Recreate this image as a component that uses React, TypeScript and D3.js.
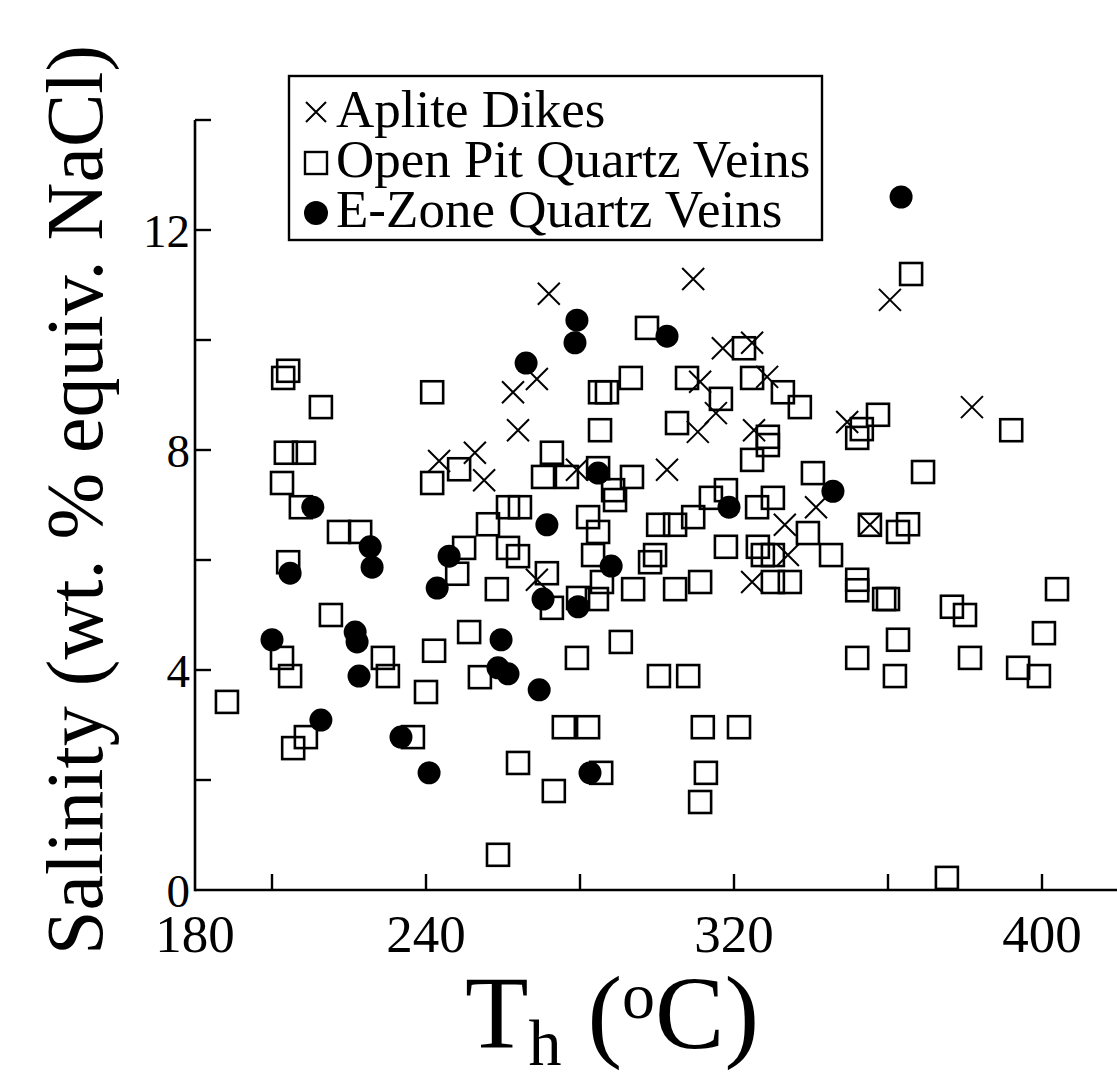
import React from 'react';
import * as d3 from 'd3';

// Aplite Dikes: [Th (°C), salinity wt.% NaCl eq.]
const apliteDikes: [number, number][] = [
  [243.4, 7.8], [252.7, 7.95], [255.1, 7.45], [271.9, 10.84], [309.4, 11.11],
  [262.6, 9.05], [268.8, 9.29], [263.9, 8.36], [268.8, 5.64], [279.2, 7.64],
  [302.6, 7.64], [317.1, 9.85], [324.7, 9.95], [311.2, 9.24], [315.3, 8.67],
  [310.6, 8.33], [328.6, 9.33], [325.2, 8.36], [333.2, 6.64], [334.0, 6.09],
  [324.7, 5.6], [341.3, 6.96], [349.4, 8.51], [355.3, 6.64], [360.5, 10.73],
  [381.8, 8.78],
];

// Open Pit Quartz Veins
const openPitVeins: [number, number][] = [
  [188.3, 3.42], [202.9, 9.31], [204.2, 9.44], [212.7, 8.78], [203.6, 7.95],
  [208.3, 7.95], [241.6, 9.05], [202.6, 7.4], [241.6, 7.4], [248.6, 7.65],
  [297.4, 10.22], [322.6, 9.85], [285.2, 9.05], [287.0, 9.05], [293.2, 9.31],
  [307.8, 9.31], [316.6, 8.93], [305.2, 8.49], [324.7, 9.31], [332.7, 9.05],
  [337.1, 8.78], [328.8, 8.24], [328.8, 8.09], [324.7, 7.82], [285.2, 8.36],
  [272.7, 7.95], [270.4, 7.51], [276.6, 7.51], [284.7, 7.67], [293.5, 7.51],
  [340.5, 7.58], [366.0, 11.2], [392.0, 8.36], [357.4, 8.64], [353.2, 8.38],
  [352.0, 8.22], [369.1, 7.6], [207.5, 6.96], [217.4, 6.51], [222.9, 6.51],
  [204.2, 5.96], [215.3, 5.0], [202.6, 4.22], [204.7, 3.89], [228.8, 4.22],
  [230.1, 3.89], [242.1, 4.35], [240.0, 3.6], [249.9, 6.22], [248.1, 5.75],
  [256.1, 6.65], [261.3, 6.22], [263.9, 6.07], [258.4, 5.47], [261.3, 6.96],
  [264.4, 6.96], [251.2, 4.69], [254.0, 3.87], [288.6, 7.27], [289.1, 7.09],
  [282.1, 6.78], [284.7, 6.51], [283.4, 6.09], [285.7, 5.6], [271.4, 5.76],
  [272.7, 5.13], [279.5, 5.31], [284.4, 5.29], [293.8, 5.47], [298.2, 5.96],
  [299.5, 6.09], [304.7, 5.47], [311.2, 5.6], [300.3, 6.64], [304.7, 6.64],
  [309.4, 6.78], [314.0, 7.13], [317.9, 7.27], [317.9, 6.24], [326.0, 6.96],
  [330.1, 7.13], [339.2, 6.49], [326.2, 6.24], [327.5, 6.09], [330.1, 6.09],
  [330.1, 5.6], [334.5, 5.6], [290.6, 4.51], [279.2, 4.22], [300.5, 3.89],
  [308.1, 3.89], [345.2, 6.09], [355.3, 6.64], [362.6, 6.51], [365.2, 6.65],
  [352.0, 5.64], [352.0, 5.45], [359.0, 5.29], [360.0, 5.29], [352.0, 4.22],
  [362.6, 4.55], [361.8, 3.89], [376.6, 5.15], [380.0, 5.0], [381.3, 4.22],
  [403.9, 5.47], [400.5, 4.67], [393.8, 4.04], [399.2, 3.89], [208.8, 2.78],
  [205.5, 2.58], [236.6, 2.78], [258.7, 0.64], [263.9, 2.31], [275.8, 2.96],
  [282.1, 2.96], [273.2, 1.8], [285.5, 2.13], [311.9, 2.96], [321.3, 2.96],
  [312.7, 2.13], [311.2, 1.6], [375.3, 0.22],
];

// E-Zone Quartz Veins
const eZoneVeins: [number, number][] = [
  [279.2, 10.36], [278.7, 9.95], [302.6, 10.07], [266.0, 9.58], [284.7, 7.58],
  [363.4, 12.6], [210.6, 6.96], [225.5, 6.24], [226.0, 5.87], [204.7, 5.76],
  [200.0, 4.55], [221.6, 4.69], [222.1, 4.51], [222.6, 3.89], [246.0, 6.07],
  [242.9, 5.49], [259.5, 4.55], [258.7, 4.04], [261.3, 3.93], [271.4, 6.64],
  [288.1, 5.89], [270.4, 5.29], [279.5, 5.15], [318.7, 6.96], [345.7, 7.25],
  [212.7, 3.09], [233.5, 2.78], [240.8, 2.13], [269.4, 3.64], [282.6, 2.13],
];

const xTickMarks = [200, 240, 280, 320, 360, 400];
const xTickLabels = [180, 240, 320, 400];
const yTickMarks = [2, 4, 6, 8, 10, 12, 14];
const yTickLabels = [0, 4, 8, 12];
const legendLabels = ['Aplite Dikes', 'Open Pit Quartz Veins', 'E-Zone Quartz Veins'];

const W = 1117;
const H = 1078;
const FONT = '"Liberation Serif", "Times New Roman", Times, serif';

export default function App() {
  const x = d3.scaleLinear().domain([180, 420]).range([195, 1119]);
  const y = d3.scaleLinear().domain([0, 14]).range([890, 120]);
  const x0 = x(180);
  const y0 = y(0);
  const tickLen = 16;
  const half = 11;

  const crossPath = (cx: number, cy: number, r: number) =>
    `M${cx - r},${cy - r}L${cx + r},${cy + r}M${cx - r},${cy + r}L${cx + r},${cy - r}`;

  return (
    <svg
      width={W}
      height={H}
      viewBox={`0 0 ${W} ${H}`}
      style={{ position: 'absolute', left: 0, top: 0, background: '#fff' }}
      fontFamily={FONT}
    >
      <rect x={0} y={0} width={W} height={H} fill="#fff" />

      {/* axes */}
      <line x1={x0} y1={y0} x2={W} y2={y0} stroke="#000" strokeWidth={2.6} />
      <line x1={x0} y1={y0 + 1.3} x2={x0} y2={y(14)} stroke="#000" strokeWidth={2.6} />
      {xTickMarks.map((t) => (
        <line key={'xt' + t} x1={x(t)} x2={x(t)} y1={y0} y2={y0 - tickLen} stroke="#000" strokeWidth={2.4} />
      ))}
      {yTickMarks.map((t) => (
        <line key={'yt' + t} x1={x0} x2={x0 + tickLen} y1={y(t)} y2={y(t)} stroke="#000" strokeWidth={2.4} />
      ))}
      {xTickLabels.map((t) => (
        <text key={'xl' + t} x={x(t)} y={952} textAnchor="middle" fontSize={53} fill="#000">
          {t}
        </text>
      ))}
      {yTickLabels.map((t) => (
        <text key={'yl' + t} x={190} y={y(t) + 17} textAnchor="end" fontSize={47} fill="#000">
          {t}
        </text>
      ))}

      {/* axis titles */}
      <text
        transform={`translate(102,${500}) rotate(-90)`}
        textAnchor="middle"
        fontSize={80}
        fill="#000"
      >
        Salinity (wt. % equiv. NaCl)
      </text>
      <text x={612} y={1048} textAnchor="middle" fontSize={104} fill="#000">
        T<tspan fontSize={66} dy={17}>h</tspan>
        <tspan dy={-17}> (</tspan>
        <tspan fontSize={66} dy={-30}>o</tspan>
        <tspan dy={30}>C)</tspan>
      </text>

      {/* data */}
      {openPitVeins.map(([t, s], i) => (
        <rect
          key={'op' + i}
          x={x(t) - half}
          y={y(s) - half}
          width={half * 2}
          height={half * 2}
          fill="none"
          stroke="#000"
          strokeWidth={2.6}
        />
      ))}
      {apliteDikes.map(([t, s], i) => (
        <path key={'ap' + i} d={crossPath(x(t), y(s), 11)} stroke="#000" strokeWidth={2} fill="none" />
      ))}
      {eZoneVeins.map(([t, s], i) => (
        <circle key={'ez' + i} cx={x(t)} cy={y(s)} r={11.5} fill="#000" />
      ))}

      {/* legend */}
      <rect x={289} y={76} width={533} height={164} fill="#fff" stroke="#000" strokeWidth={2.4} />
      <path d={crossPath(316, 112, 10)} stroke="#000" strokeWidth={2} fill="none" />
      <rect x={305} y={152} width={22} height={22} fill="none" stroke="#000" strokeWidth={2.4} />
      <circle cx={316} cy={213} r={12} fill="#000" />
      {legendLabels.map((l, i) => (
        <text key={l} x={336} y={127 + i * 50} fontSize={53} fill="#000">
          {l}
        </text>
      ))}
    </svg>
  );
}
